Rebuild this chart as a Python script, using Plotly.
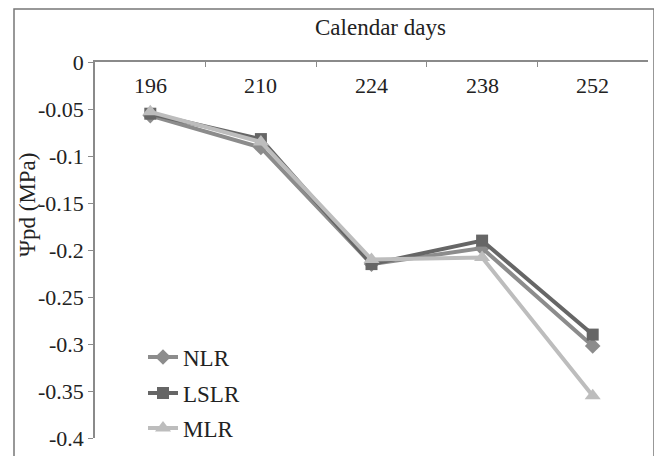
import plotly.graph_objects as go

days = ["196", "210", "224", "238", "252"]
nlr = [-0.057, -0.091, -0.215, -0.198, -0.302]
lslr = [-0.055, -0.082, -0.215, -0.190, -0.290]
mlr = [-0.053, -0.085, -0.210, -0.208, -0.355]
y_ticks = [0, -0.05, -0.1, -0.15, -0.2, -0.25, -0.3, -0.35, -0.4]
y_labels = ["0", "-0.05", "-0.1", "-0.15", "-0.2", "-0.25", "-0.3", "-0.35", "-0.4"]

font = "'Liberation Serif', Tinos, 'DejaVu Serif'"
axis_col = "#8a8a8a"

# page body adds an 8px offset, so lay out in shifted coordinates
W, H = 654, 448
L, R, T, B = 87, 14, 54, 18
pw, ph = W - L - R, H - T - B


def px(x):
    return (x - 8 - L) / pw


def py(y):
    return (H - B - (y - 8)) / ph


fig = go.Figure()
fig.add_trace(go.Scatter(x=days, y=nlr, name="NLR", mode="lines+markers",
                         line=dict(color="#8c8c8c", width=4),
                         marker=dict(symbol="diamond", size=12, color="#8c8c8c"),
                         legend="legend"))
fig.add_trace(go.Scatter(x=days, y=lslr, name="LSLR", mode="lines+markers",
                         line=dict(color="#666666", width=4),
                         marker=dict(symbol="square", size=12, color="#666666"),
                         legend="legend2"))
fig.add_trace(go.Scatter(x=days, y=mlr, name="MLR", mode="lines+markers",
                         line=dict(color="#bdbdbd", width=4),
                         marker=dict(symbol="triangle-up", size=14, color="#bdbdbd"),
                         legend="legend3"))

leg = dict(x=px(143), xanchor="left", yanchor="middle",
           bgcolor="rgba(0,0,0,0)", font=dict(size=23, family=font))

fig.update_layout(
    width=W, height=H,
    margin=dict(l=L, r=R, t=T, b=B, autoexpand=False),
    plot_bgcolor="white", paper_bgcolor="white",
    font=dict(family=font, size=22, color="#222222"),
    showlegend=True,
    legend=dict(leg, y=py(357)),
    legend2=dict(leg, y=py(393)),
    legend3=dict(leg, y=py(428)),
    xaxis=dict(side="top", type="category", showline=True, linecolor=axis_col,
               linewidth=1.5, ticks="inside", ticklen=5, tickcolor=axis_col,
               tickson="boundaries", showticklabels=False,
               showgrid=False, zeroline=False, range=[-0.5, 4.5],
               automargin=False),
    yaxis=dict(range=[-0.4, 0], tickvals=y_ticks, ticktext=y_labels,
               showline=True, linecolor=axis_col, linewidth=1.5,
               ticks="outside", ticklen=5, tickcolor=axis_col,
               showgrid=False, zeroline=False, automargin=False),
)

# category labels sit just below the top axis line
for i, d in enumerate(days):
    fig.add_annotation(text=d, x=i, xref="x", y=py(85), yref="paper",
                       xanchor="center", yanchor="middle", showarrow=False)

fig.add_annotation(text="Calendar days", xref="paper", yref="paper",
                   x=px(380), y=py(28), xanchor="center", yanchor="middle",
                   showarrow=False, font=dict(size=23))
fig.add_annotation(text="Ψpd (MPa)", xref="paper", yref="paper",
                   x=px(27), y=py(205), xanchor="center", yanchor="middle",
                   textangle=-90, showarrow=False, font=dict(size=23))

# outer chart frame
fig.add_shape(type="rect", xref="paper", yref="paper",
              x0=px(14), x1=px(654), y0=py(470), y1=py(9),
              line=dict(color="#777777", width=1.5), layer="below")

fig.write_html("out.html")
